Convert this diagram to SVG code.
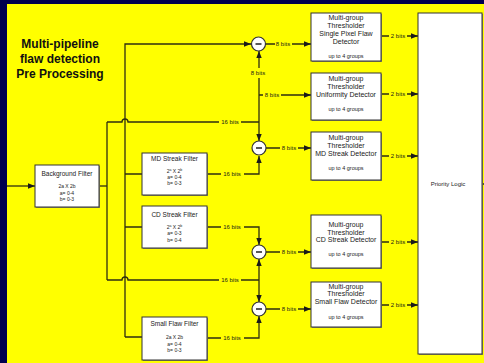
<svg xmlns="http://www.w3.org/2000/svg" width="484" height="363" viewBox="0 0 484 363">
<style>
.bx{fill:#fff;stroke:#333;stroke-width:1}
.sh{fill:#8a8a60}
.ln{fill:none;stroke:#2e2e10;stroke-width:1.3}
.t{font-family:"Liberation Sans",Arial,sans-serif;fill:#1a1a1a;text-anchor:middle}
.tt{font-size:12px;font-weight:bold;fill:#111}
.f{font-size:6.5px}
.s{font-size:5px}
.d{font-size:7px}
.g{font-size:5.5px}
.l{font-size:6px}
.c{fill:#fff;stroke:#333;stroke-width:1.2}
</style>
<defs>
<marker id="ar" markerUnits="userSpaceOnUse" markerWidth="8" markerHeight="7" refX="7" refY="3.5" orient="auto">
<path d="M0,0.8 L7,3.5 L0,6.2 z" fill="#1a1a1a"/>
</marker>
</defs>
<rect x="0" y="0" width="484" height="363" fill="#00004e"/>
<rect x="7" y="4" width="477" height="359" fill="#ffff00"/>

<g id="title">
<text class="t tt" x="60" y="48">Multi-pipeline</text>
<text class="t tt" x="60" y="63">flaw detection</text>
<text class="t tt" x="60" y="78">Pre Processing</text>
</g>

<g id="connectors">
<path class="ln" d="M7,186 H35" marker-end="url(#ar)"/>
<path class="ln" d="M99,186 H107"/>
<path class="ln" d="M107,122 V280"/>
<path class="ln" d="M107,122 H122 a3,3 0 0 1 6,0 H219 M241,122 H259"/>
<path class="ln" d="M107,280 H122 a3,3 0 0 1 6,0 H219 M241,280 H259"/>
<path class="ln" d="M125,337 V44 H251" marker-end="url(#ar)"/>
<path class="ln" d="M125,174 H142 M125,227 H142 M125,337 H142"/>
<path class="ln" d="M207,174 H221 M244,174 H259 V156" marker-end="url(#ar)"/>
<path class="ln" d="M207,227 H221 M244,227 H259 V245" marker-end="url(#ar)"/>
<path class="ln" d="M207,338 H221 M244,338 H259 V316" marker-end="url(#ar)"/>
<path class="ln" d="M259,280 V259" marker-end="url(#ar)"/>
<path class="ln" d="M259,280 V302" marker-end="url(#ar)"/>
<path class="ln" d="M259,122 V141" marker-end="url(#ar)"/>
<path class="ln" d="M259,122 V78"/>
<path class="ln" d="M259,68 V51" marker-end="url(#ar)"/>
<path class="ln" d="M259,95 H263 M281,95 H311" marker-end="url(#ar)"/>
<path class="ln" d="M266,44 H275 M292,44 H311" marker-end="url(#ar)"/>
<path class="ln" d="M266,148 H280 M298,148 H311" marker-end="url(#ar)"/>
<path class="ln" d="M266,252 H280 M298,252 H311" marker-end="url(#ar)"/>
<path class="ln" d="M266,309 H280 M298,309 H311" marker-end="url(#ar)"/>
<path class="ln" d="M381,36 H389 M407,36 H418" marker-end="url(#ar)"/>
<path class="ln" d="M381,94 H389 M407,94 H418" marker-end="url(#ar)"/>
<path class="ln" d="M381,156 H389 M407,156 H418" marker-end="url(#ar)"/>
<path class="ln" d="M381,242 H389 M407,242 H418" marker-end="url(#ar)"/>
<path class="ln" d="M381,305 H389 M407,305 H418" marker-end="url(#ar)"/>
<path class="ln" d="M482,184 H484"/>
<text class="t l" x="230" y="124">16 bits</text>
<text class="t l" x="232" y="176">16 bits</text>
<text class="t l" x="232" y="229">16 bits</text>
<text class="t l" x="230" y="282">16 bits</text>
<text class="t l" x="232" y="340">16 bits</text>
<text class="t l" x="283" y="46">8 bits</text>
<text class="t l" x="258" y="75">8 bits</text>
<text class="t l" x="272" y="97">8 bits</text>
<text class="t l" x="289" y="150">8 bits</text>
<text class="t l" x="289" y="254">8 bits</text>
<text class="t l" x="289" y="311">8 bits</text>
<text class="t l" x="398" y="38">2 bits</text>
<text class="t l" x="398" y="96">2 bits</text>
<text class="t l" x="398" y="158">2 bits</text>
<text class="t l" x="398" y="244">2 bits</text>
<text class="t l" x="398" y="307">2 bits</text>
</g>

<g id="bg-filter">
<rect class="sh" x="36" y="166" width="64" height="42"/>
<rect class="bx" x="35" y="165" width="64" height="42"/>
<text class="t f" x="67" y="176">Background Filter</text>
<text class="t s" x="67" y="188">2a  X  2b</text>
<text class="t s" x="67" y="195">a= 0-4</text>
<text class="t s" x="67" y="201">b= 0-3</text>
</g>

<g id="md-filter">
<rect class="sh" x="143" y="154" width="65" height="42"/>
<rect class="bx" x="142" y="153" width="65" height="42"/>
<text class="t f" x="174.5" y="161">MD Streak Filter</text>
<text class="t s" x="174.5" y="173">2<tspan font-size="3.5" dy="-2">a</tspan><tspan dy="2"> X 2</tspan><tspan font-size="3.5" dy="-2">b</tspan></text>
<text class="t s" x="174.5" y="179">a= 0-4</text>
<text class="t s" x="174.5" y="185">b= 0-3</text>
</g>

<g id="cd-filter">
<rect class="sh" x="143" y="207" width="65" height="42"/>
<rect class="bx" x="142" y="206" width="65" height="42"/>
<text class="t f" x="174.5" y="217">CD Streak Filter</text>
<text class="t s" x="174.5" y="229">2<tspan font-size="3.5" dy="-2">a</tspan><tspan dy="2"> X 2</tspan><tspan font-size="3.5" dy="-2">b</tspan></text>
<text class="t s" x="174.5" y="235">a= 0-3</text>
<text class="t s" x="174.5" y="242">b= 0-4</text>
</g>

<g id="sf-filter">
<rect class="sh" x="143" y="318" width="65" height="43"/>
<rect class="bx" x="142" y="317" width="65" height="43"/>
<text class="t f" x="174.5" y="326">Small Flaw Filter</text>
<text class="t s" x="174.5" y="339">2a  X  2b</text>
<text class="t s" x="174.5" y="346">a= 0-4</text>
<text class="t s" x="174.5" y="352">b= 0-3</text>
</g>

<g id="sub1"><circle class="c" cx="258.5" cy="44" r="7"/><path d="M255.5,44 H261.5" stroke="#111" stroke-width="1.4"/></g>
<g id="sub2"><circle class="c" cx="259" cy="148" r="7"/><path d="M256,148 H262" stroke="#111" stroke-width="1.4"/></g>
<g id="sub3"><circle class="c" cx="259" cy="252" r="7"/><path d="M256,252 H262" stroke="#111" stroke-width="1.4"/></g>
<g id="sub4"><circle class="c" cx="259" cy="309" r="7"/><path d="M256,309 H262" stroke="#111" stroke-width="1.4"/></g>

<g id="det-spf">
<rect class="sh" x="312" y="14" width="70" height="48"/>
<rect class="bx" x="311" y="13" width="70" height="48"/>
<text class="t d" x="346" y="19.5">Multi-group</text>
<text class="t d" x="346" y="27.5">Thresholder</text>
<text class="t d" x="346" y="35.5">Single Pixel Flaw</text>
<text class="t d" x="346" y="43.5">Detector</text>
<text class="t g" x="346" y="58">up to 4 groups</text>
</g>

<g id="det-uni">
<rect class="sh" x="312" y="74" width="70" height="47"/>
<rect class="bx" x="311" y="73" width="70" height="47"/>
<text class="t d" x="346" y="80.5">Multi-group</text>
<text class="t d" x="346" y="88.5">Thresholder</text>
<text class="t d" x="346" y="96.5">Uniformity Detector</text>
<text class="t g" x="346" y="111">up to 4 groups</text>
</g>

<g id="det-md">
<rect class="sh" x="312" y="133" width="70" height="48"/>
<rect class="bx" x="311" y="132" width="70" height="48"/>
<text class="t d" x="346" y="139.5">Multi-group</text>
<text class="t d" x="346" y="147.5">Thresholder</text>
<text class="t d" x="346" y="155.5">MD Streak Detector</text>
<text class="t g" x="346" y="170">up to 4 groups</text>
</g>

<g id="det-cd">
<rect class="sh" x="312" y="216" width="70" height="53"/>
<rect class="bx" x="311" y="215" width="70" height="53"/>
<text class="t d" x="346" y="226.5">Multi-group</text>
<text class="t d" x="346" y="234.5">Thresholder</text>
<text class="t d" x="346" y="242">CD Streak Detector</text>
<text class="t g" x="346" y="256">up to 4 groups</text>
</g>

<g id="det-sf">
<rect class="sh" x="312" y="283" width="70" height="45"/>
<rect class="bx" x="311" y="282" width="70" height="45"/>
<text class="t d" x="346" y="288.5">Multi-group</text>
<text class="t d" x="346" y="295.5">Thresholder</text>
<text class="t d" x="346" y="303.5">Small Flaw Detector</text>
<text class="t g" x="346" y="319">up to 4 groups</text>
</g>

<g id="priority">
<rect class="sh" x="419" y="14" width="64" height="341"/>
<rect class="bx" x="418" y="13" width="64" height="341"/>
<text class="t l" x="448" y="186">Priority Logic</text>
</g>
</svg>
